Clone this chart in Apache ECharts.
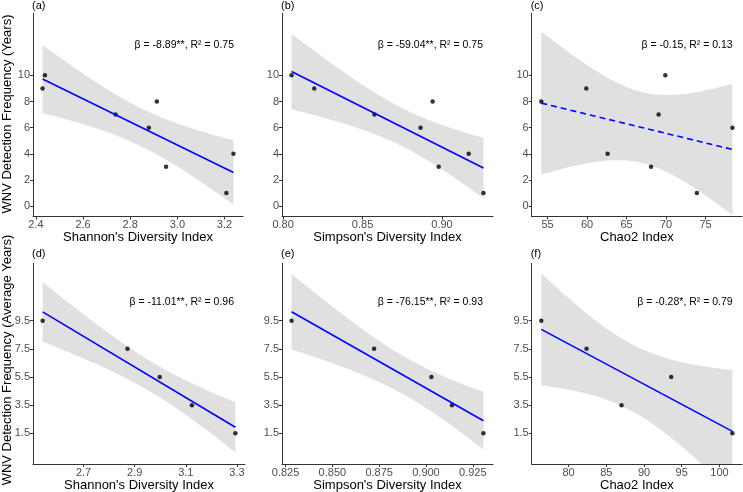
<!DOCTYPE html>
<html>
<head>
<meta charset="utf-8"/>
<title>WNV detection vs mosquito diversity</title>
<script src="https://cdn.jsdelivr.net/npm/echarts@6/dist/echarts.min.js"></script>
<style>
    html, body { margin: 0; padding: 0; background: #fff; }
    #chart { width: 743px; height: 492px; }
</style>
</head>
<body>
<div id="chart"></div>
<script>
// top row: one value per site, sites ordered by years with WNV detected
var yearsDetected = [10, 9, 8, 7, 6, 4, 3, 1];
var shannonSite = [2.438, 2.428, 2.913, 2.738, 2.879, 3.238, 2.952, 3.208];
var simpsonSite = [0.8053, 0.8196, 0.8941, 0.8575, 0.8865, 0.9168, 0.8979, 0.9261];
var chao2Site = [69.9, 59.9, 54.2, 69.05, 78.4, 62.6, 68.1, 73.9];

// bottom row: average years
var avgYears = [9.5, 7.5, 5.5, 3.5, 1.5];
var shannonAvg = [2.54, 2.872, 2.998, 3.124, 3.294];
var simpsonAvg = [0.8282, 0.8723, 0.9029, 0.9139, 0.9307];
var chao2Avg = [76.38, 82.38, 93.6, 87.02, 101.72];

// tick labels
var yTicksYears = [0, 2, 4, 6, 8, 10];
var yTicksAvg = [1.5, 3.5, 5.5, 7.5, 9.5];
var shannonTicksTop = [2.4, 2.6, 2.8, 3.0, 3.2];
var simpsonTicksTop = [0.80, 0.85, 0.90];
var chao2TicksTop = [55, 60, 65, 70, 75];
var shannonTicksBottom = [2.7, 2.9, 3.1, 3.3];
var simpsonTicksBottom = [0.825, 0.850, 0.875, 0.900, 0.925];
var chao2TicksBottom = [80, 85, 90, 95, 100];

var panelTags = ['(a)', '(b)', '(c)', '(d)', '(e)', '(f)'];
var statLabels = [
    'β = -8.89**, R² = 0.75',
    'β = -59.04**, R² = 0.75',
    'β = -0.15, R² = 0.13',
    'β = -11.01**, R² = 0.96',
    'β = -76.15**, R² = 0.93',
    'β = -0.28*, R² = 0.79'
];
var xTitles = ["Shannon's Diversity Index", "Simpson's Diversity Index", 'Chao2 Index'];
var yTitles = ['WNV Detection Frequency (Years)', 'WNV Detection Frequency (Average Years)'];

// 95% t quantiles by residual df (n-2)
var tCrit = {3: 3.182, 6: 2.447};

var FONT = '"Liberation Sans", Arial, sans-serif';

var rows = [
    {top: 13.3, height: 203.2, yMin: -0.8, yMax: 14.75, ticks: yTicksYears, dec: 0, textY: 45.5, tagY: 6},
    {top: 263.3, height: 200.7, yMin: -0.68, yMax: 13.58, ticks: yTicksAvg, dec: 1, textY: 302, tagY: 254}
];
var cols = [
    {left: 33, right: [243, 245]},
    {left: 282, right: [493, 493]},
    {left: 531.7, right: [742, 742]}
];

var panels = [
    {x: shannonSite, y: yearsDetected, xMin: 2.3875, xMax: 3.2785, xTicks: shannonTicksTop, dec: 1, row: 0, col: 0},
    {x: simpsonSite, y: yearsDetected, xMin: 0.7993, xMax: 0.9321, xTicks: simpsonTicksTop, dec: 2, row: 0, col: 1},
    {x: chao2Site, y: yearsDetected, xMin: 52.99, xMax: 79.61, xTicks: chao2TicksTop, dec: 0, row: 0, col: 2, dashed: true},
    {x: shannonAvg, y: avgYears, xMin: 2.5023, xMax: 3.3317, xTicks: shannonTicksBottom, dec: 1, row: 1, col: 0},
    {x: simpsonAvg, y: avgYears, xMin: 0.8231, xMax: 0.9358, xTicks: simpsonTicksBottom, dec: 3, row: 1, col: 1},
    {x: chao2Avg, y: avgYears, xMin: 75.11, xMax: 102.99, xTicks: chao2TicksBottom, dec: 0, row: 1, col: 2}
];

// ordinary least squares with 95% confidence band (like geom_smooth(method = "lm"))
function lmFit(xs, ys) {
    var n = xs.length, mx = 0, my = 0;
    for (var i = 0; i < n; i++) { mx += xs[i]; my += ys[i]; }
    mx /= n; my /= n;
    var sxx = 0, sxy = 0;
    for (i = 0; i < n; i++) {
        sxx += (xs[i] - mx) * (xs[i] - mx);
        sxy += (xs[i] - mx) * (ys[i] - my);
    }
    var b = sxy / sxx, a = my - b * mx, rss = 0;
    for (i = 0; i < n; i++) {
        var r = ys[i] - (a + b * xs[i]);
        rss += r * r;
    }
    var s = Math.sqrt(rss / (n - 2));
    var t = tCrit[n - 2];
    var lo = Math.min.apply(null, xs), hi = Math.max.apply(null, xs);
    var band = [];
    for (i = 0; i <= 60; i++) {
        var x = lo + (hi - lo) * i / 60;
        var yh = a + b * x;
        var se = s * Math.sqrt(1 / n + (x - mx) * (x - mx) / sxx);
        band.push([x, yh - t * se, yh + t * se]);
    }
    return {line: [[lo, a + b * lo], [hi, a + b * hi]], band: band};
}

var grids = [], xAxes = [], yAxes = [], series = [], graphics = [];

panels.forEach(function (p, i) {
    var row = rows[p.row], col = cols[p.col];
    grids.push({
        left: col.left, top: row.top,
        width: col.right[p.row] - col.left, height: row.height,
        outerBoundsMode: 'none'
    });
    xAxes.push({
        gridIndex: i, type: 'value', min: p.xMin, max: p.xMax,
        name: xTitles[p.col], nameLocation: 'middle', nameGap: 12,
        nameTextStyle: {fontSize: 13, color: '#000', fontFamily: FONT},
        axisLine: {onZero: false, lineStyle: {color: '#333', width: 1}},
        axisTick: {length: 3, customValues: p.xTicks, lineStyle: {color: '#333'}},
        axisLabel: {
            customValues: p.xTicks, margin: 3, fontSize: 11, color: '#4d4d4d', fontFamily: FONT,
            formatter: function (v) { return v.toFixed(p.dec); }
        },
        splitLine: {show: false}
    });
    yAxes.push({
        gridIndex: i, type: 'value', min: row.yMin, max: row.yMax,
        axisLine: {onZero: false, lineStyle: {color: '#333', width: 1}},
        axisTick: {length: 3, customValues: row.ticks, lineStyle: {color: '#333'}},
        axisLabel: {
            customValues: row.ticks, margin: 3, fontSize: 11, color: '#4d4d4d', fontFamily: FONT,
            formatter: function (v) { return v.toFixed(row.dec); }
        },
        splitLine: {show: false}
    });

    var fit = lmFit(p.x, p.y);
    series.push({
        type: 'scatter', xAxisIndex: i, yAxisIndex: i,
        data: p.x.map(function (x, k) { return [x, p.y[k]]; }),
        symbolSize: 4.5, itemStyle: {color: '#000'}, silent: true
    });
    series.push({
        type: 'custom', xAxisIndex: i, yAxisIndex: i, clip: true, silent: true,
        data: [[fit.band[0][0], fit.band[0][1]]],
        renderItem: function (params, api) {
            var pts = [];
            fit.band.forEach(function (d) { pts.push(api.coord([d[0], d[2]])); });
            for (var k = fit.band.length - 1; k >= 0; k--) {
                pts.push(api.coord([fit.band[k][0], fit.band[k][1]]));
            }
            var cs = params.coordSys;
            return {
                type: 'polygon', shape: {points: pts},
                style: {fill: 'rgba(153,153,153,0.3)'},
                clipPath: {type: 'rect', shape: {x: cs.x, y: cs.y, width: cs.width, height: cs.height}}
            };
        }
    });
    series.push({
        type: 'line', xAxisIndex: i, yAxisIndex: i, data: fit.line,
        symbol: 'none', silent: true,
        lineStyle: {color: '#0000ff', width: 1.6, type: p.dashed ? [6, 4] : 'solid'}
    });

    graphics.push({
        type: 'text', x: col.left - 1, y: row.tagY,
        style: {text: panelTags[i], font: '11px ' + FONT, fill: '#000', align: 'left', verticalAlign: 'middle'}
    });
    graphics.push({
        type: 'text', x: col.left + 201, y: row.textY,
        style: {text: statLabels[i], font: '10.5px ' + FONT, fill: '#000', align: 'right', verticalAlign: 'middle'}
    });
});

graphics.push({
    type: 'text', x: 7.5, y: 114, rotation: Math.PI / 2,
    style: {text: yTitles[0], font: '13px ' + FONT, fill: '#000', align: 'center', verticalAlign: 'middle'}
});
graphics.push({
    type: 'text', x: 7.5, y: 360, rotation: Math.PI / 2,
    style: {text: yTitles[1], font: '13px ' + FONT, fill: '#000', align: 'center', verticalAlign: 'middle'}
});

var myChart = echarts.init(document.getElementById('chart'));
myChart.setOption({
    animation: false,
    backgroundColor: '#fff',
    grid: grids,
    xAxis: xAxes,
    yAxis: yAxes,
    series: series,
    graphic: graphics
});
</script>
</body>
</html>
